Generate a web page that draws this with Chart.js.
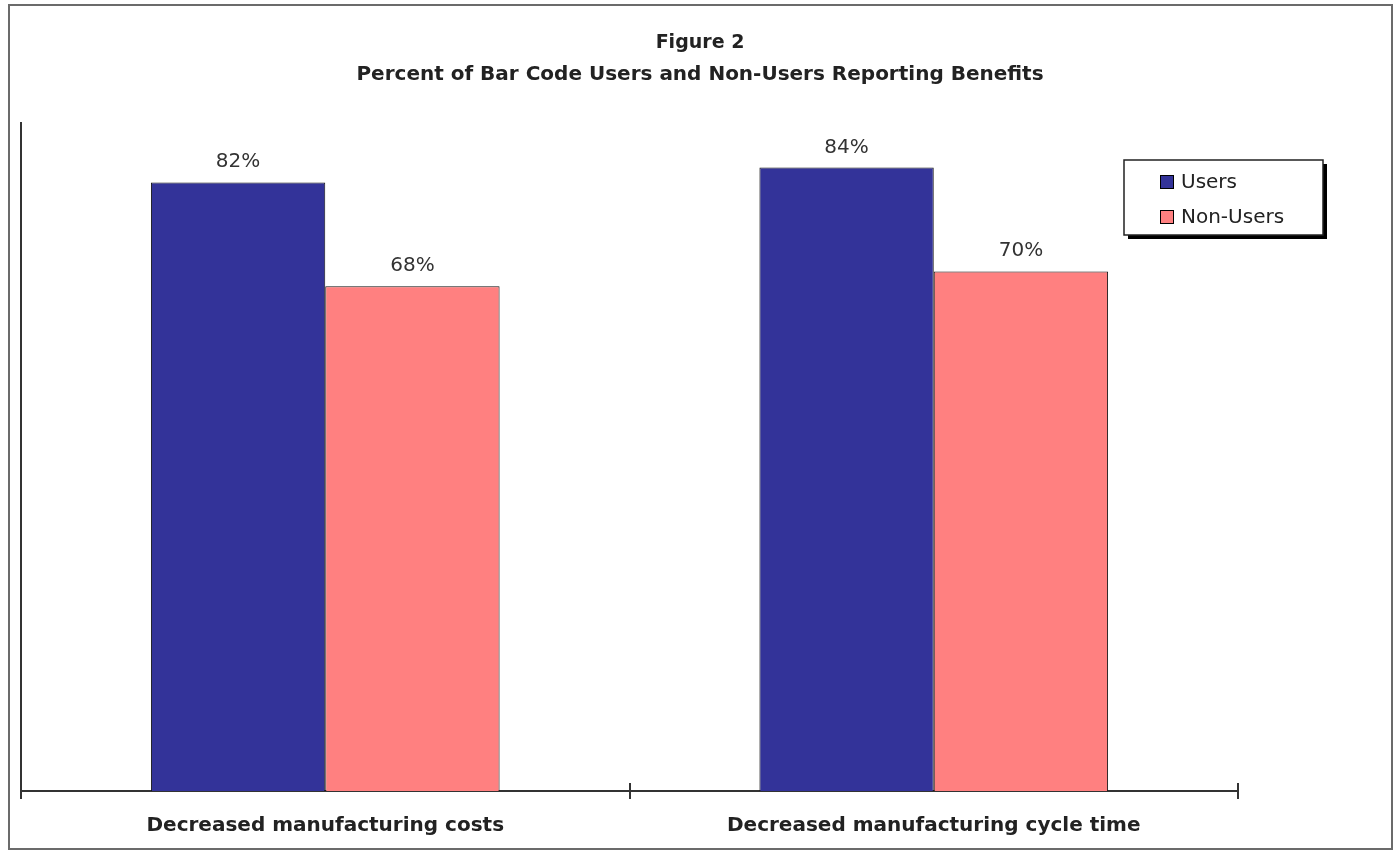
<!DOCTYPE html>
<html>
<head>
<meta charset="utf-8">
<title>Figure 2</title>
<script src="https://cdn.jsdelivr.net/npm/chart.js@4/dist/chart.umd.min.js"></script>
<style>
    html, body { margin: 0; padding: 0; background: #fff; }
    #wrap { width: 1400px; height: 855px; }
</style>
</head>
<body>
<div id="wrap"><canvas id="benefitsChart" width="1400" height="855"></canvas></div>
<script>
// Survey data
const categories = ['Decreased manufacturing costs', 'Decreased manufacturing cycle time'];
const seriesNames = ['Users', 'Non-Users'];
const usersPct = [82, 84];
const nonUsersPct = [68, 70];
const titleLines = ['Figure 2', 'Percent of Bar Code Users and Non-Users Reporting Benefits'];

const FONT = "'DejaVu Sans', sans-serif";

// Grey frame around the whole figure
const framePlugin = {
    id: 'frame',
    beforeDraw(chart) {
        const ctx = chart.ctx;
        ctx.save();
        ctx.fillStyle = '#fff';
        ctx.fillRect(0, 0, chart.width, chart.height);
        ctx.strokeStyle = '#6b6b6b';
        ctx.lineWidth = 2;
        ctx.strokeRect(9, 5, 1383, 844);
        ctx.restore();
    }
};

// Two-line heading, centred on the whole figure rather than the plot
const headingPlugin = {
    id: 'heading',
    afterDraw(chart) {
        const ctx = chart.ctx;
        ctx.save();
        ctx.fillStyle = '#222';
        ctx.textAlign = 'center';
        ctx.textBaseline = 'middle';
        titleLines.forEach((line, i) => {
            ctx.font = 'bold ' + (i === 0 ? 19 : 20) + 'px ' + FONT;
            ctx.fillText(line, chart.width / 2, 43 + i * 32);
        });
        ctx.restore();
    }
};

// Percent labels above each bar
const valueLabels = {
    id: 'valueLabels',
    afterDatasetsDraw(chart) {
        const ctx = chart.ctx;
        ctx.save();
        ctx.font = '20px ' + FONT;
        ctx.fillStyle = '#333';
        ctx.textAlign = 'center';
        ctx.textBaseline = 'alphabetic';
        chart.data.datasets.forEach((ds, i) => {
            chart.getDatasetMeta(i).data.forEach((bar, j) => {
                ctx.fillText(ds.data[j] + '%', bar.x, bar.y - 15);
            });
        });
        ctx.restore();
    }
};

// Category tick marks cross the axis line, so draw the upper half too
const crossTicks = {
    id: 'crossTicks',
    afterDraw(chart) {
        const x = chart.scales.x;
        const n = chart.data.labels.length;
        const step = (x.right - x.left) / n;
        const ctx = chart.ctx;
        ctx.save();
        ctx.strokeStyle = '#333';
        ctx.lineWidth = 2;
        ctx.beginPath();
        for (let i = 1; i <= n; i++) {
            const px = Math.round(x.left + i * step);
            ctx.moveTo(px, x.top - 8);
            ctx.lineTo(px, x.top);
        }
        ctx.stroke();
        ctx.restore();
    }
};

// Boxed legend with drop shadow, inside the plot on the right
const boxLegend = {
    id: 'boxLegend',
    afterDraw(chart) {
        const ctx = chart.ctx;
        const x = 1124, y = 160, w = 199, h = 75;
        ctx.save();
        ctx.fillStyle = '#000';
        ctx.fillRect(x + 4, y + 4, w, h);
        ctx.fillStyle = '#fff';
        ctx.fillRect(x, y, w, h);
        ctx.strokeStyle = '#222';
        ctx.lineWidth = 1.5;
        ctx.strokeRect(x, y, w, h);

        ctx.font = '20px ' + FONT;
        ctx.textBaseline = 'middle';
        chart.data.datasets.forEach((ds, i) => {
            const cy = y + 22 + i * 35;
            ctx.fillStyle = ds.backgroundColor;
            ctx.fillRect(x + 36, cy - 7, 14, 14);
            ctx.strokeStyle = '#000';
            ctx.lineWidth = 1;
            ctx.strokeRect(x + 36.5, cy - 6.5, 13, 13);
            ctx.fillStyle = '#222';
            ctx.fillText(ds.label, x + 57, cy + 1);
        });
        ctx.restore();
    }
};

const ctx = document.getElementById('benefitsChart');
new Chart(ctx, {
    type: 'bar',
    data: {
        labels: categories,
        datasets: [{
            label: seriesNames[0],
            data: usersPct,
            backgroundColor: '#333399',
            borderColor: '#111',
            borderWidth: 1
        }, {
            label: seriesNames[1],
            data: nonUsersPct,
            backgroundColor: '#ff8080',
            borderColor: '#111',
            borderWidth: 1
        }]
    },
    options: {
        responsive: false,
        animation: false,
        devicePixelRatio: 1,
        layout: {
            padding: { left: 21, right: 162, top: 123, bottom: 0 }
        },
        datasets: {
            bar: {
                categoryPercentage: 0.573,
                barPercentage: 1
            }
        },
        scales: {
            x: {
                afterFit: s => { s.height = 64; },
                grid: {
                    display: true,
                    drawOnChartArea: false,
                    drawTicks: true,
                    tickLength: 8,
                    color: '#333',
                    lineWidth: 2
                },
                border: { display: true, color: '#333', width: 2 },
                ticks: {
                    color: '#222',
                    padding: 15,
                    font: { family: FONT, size: 20, weight: 'bold' }
                }
            },
            y: {
                min: 0,
                max: 90,
                afterFit: s => { s.width = 0; },
                grid: { display: false, drawTicks: false },
                border: { display: true, color: '#333', width: 2 },
                ticks: { display: false }
            }
        },
        plugins: {
            legend: { display: false },
            tooltip: { enabled: false },
            title: { display: false }
        }
    },
    plugins: [framePlugin, valueLabels, crossTicks, boxLegend, headingPlugin]
});
</script>
</body>
</html>
